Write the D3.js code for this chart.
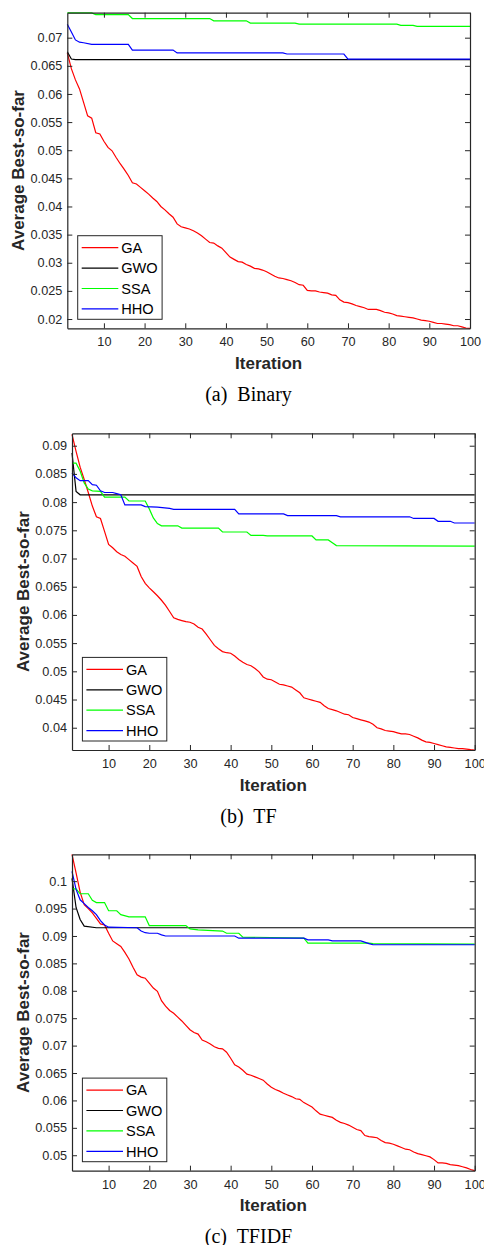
<!DOCTYPE html>
<html>
  <head>
    <meta charset="utf-8">
    <style>
      body { margin: 0; background: #fff; }
      .tick text { font-family: "Liberation Sans", Arial, sans-serif; font-size: 12.7px; fill: #262626; }
      .tick line { stroke: #262626; }
      .domain { stroke: #262626; }
      .lab { font-family: "Liberation Sans", Arial, sans-serif; font-weight: bold; font-size: 17px; fill: #262626; }
      .leg { font-family: "Liberation Sans", Arial, sans-serif; font-size: 14.6px; fill: #000; }
      .cap { font-family: "Liberation Serif", "Times New Roman", serif; font-size: 20px; fill: #000; }
      .series { fill: none; stroke-width: 1.2; }
    </style>
    <script src="https://cdnjs.cloudflare.com/ajax/libs/d3/7.8.5/d3.min.js"></script>
  </head>
  <body>
    <svg width="484" height="1245" id="SVG"></svg>
    <script>
      var names = ["GA", "GWO", "SSA", "HHO"];
      var colors = ["#ff0000", "#000000", "#00ff00", "#0000ff"];
      var captions = ["(a)  Binary", "(b)  TF", "(c)  TFIDF"];
      var xTicks = [10, 20, 30, 40, 50, 60, 70, 80, 90, 100];
      var yTicks1 = [0.02, 0.025, 0.03, 0.035, 0.04, 0.045, 0.05, 0.055, 0.06, 0.065, 0.07];
      var yTicks2 = [0.04, 0.045, 0.05, 0.055, 0.06, 0.065, 0.07, 0.075, 0.08, 0.085, 0.09];
      var yTicks3 = [0.05, 0.055, 0.06, 0.065, 0.07, 0.075, 0.08, 0.085, 0.09, 0.095, 0.1];

      // (a) Binary  -- [iteration, value]
      var ga1 = [[1,0.0673],[2,0.0645],[3,0.0625],[4,0.0609],[5,0.0585],[6,0.0561],[7,0.0557],[8,0.0531],[9,0.0529],[10,0.0516],
        [11,0.0505],[12,0.0499],[13,0.0487],[14,0.0476],[15,0.0466],[16,0.0455],[17,0.0442],[18,0.0440],[19,0.0434],[20,0.0428],
        [21,0.0422],[22,0.0415],[23,0.0409],[24,0.0400],[25,0.0394],[26,0.0387],[27,0.0381],[28,0.0369],[29,0.0364],[30,0.0362],
        [31,0.0360],[32,0.0357],[33,0.0353],[34,0.0348],[35,0.0342],[36,0.0336],[37,0.0335],[38,0.0330],[39,0.0326],[40,0.0318],
        [41,0.0310],[42,0.0306],[43,0.0302],[44,0.0301],[45,0.0297],[46,0.0294],[47,0.0290],[48,0.0289],[49,0.0287],[50,0.0284],
        [51,0.0280],[52,0.0276],[53,0.0273],[54,0.0272],[55,0.0270],[56,0.0268],[57,0.0265],[58,0.0261],[59,0.0260],[60,0.0251],
        [61,0.0250],[62,0.0250],[63,0.0248],[64,0.0247],[65,0.0246],[66,0.0243],[67,0.0242],[68,0.0234],[69,0.0230],[70,0.0229],
        [71,0.0227],[72,0.0224],[73,0.0222],[74,0.0220],[75,0.0217],[76,0.0217],[77,0.0217],[78,0.0215],[79,0.0212],[80,0.0211],
        [81,0.0209],[82,0.0206],[83,0.0205],[84,0.0204],[85,0.0203],[86,0.0202],[87,0.0200],[88,0.0198],[89,0.0197],[90,0.0196],
        [91,0.0194],[92,0.0192],[93,0.0192],[94,0.0191],[95,0.0190],[96,0.0188],[97,0.0188],[98,0.0186],[99,0.0184],[100,0.01835]];
      var gwo1 = [[1,0.0675],[2,0.0662],[3,0.0661],[100,0.0661]];
      var ssa1 = [[1,0.0744],[7,0.0744],[8,0.0741],[16,0.0741],[17,0.0734],[36,0.0734],[37,0.0730],[45,0.0730],[46,0.0726],
        [57,0.0726],[58,0.0724],[82,0.0724],[83,0.0722],[86,0.0722],[87,0.0720],[100,0.0720]];
      var hho1 = [[1,0.0724],[2,0.0710],[3,0.0696],[4,0.0692],[5,0.0691],[7,0.0688],[16,0.0688],[17,0.0678],[27,0.0678],
        [28,0.0673],[54,0.0673],[55,0.0671],[69,0.0671],[70,0.0662],[100,0.0662]];

      // (b) TF
      var ga2 = [[1,0.0920],[2,0.0890],[3,0.0862],[4,0.0840],[5,0.0817],[6,0.0793],[7,0.0774],[8,0.0771],[9,0.0748],[10,0.0725],
        [11,0.0719],[12,0.0712],[13,0.0707],[14,0.0704],[15,0.0698],[16,0.0692],[17,0.0686],[18,0.0668],[19,0.0656],[20,0.0648],
        [21,0.0641],[22,0.0634],[23,0.0626],[24,0.0617],[25,0.0606],[26,0.0595],[27,0.0592],[28,0.0590],[29,0.0588],[30,0.0587],
        [31,0.0584],[32,0.0578],[33,0.0575],[34,0.0566],[35,0.0556],[36,0.0546],[37,0.0540],[38,0.0535],[39,0.0533],[40,0.0532],
        [41,0.0527],[42,0.0521],[43,0.0516],[44,0.0512],[45,0.0510],[46,0.0505],[47,0.0499],[48,0.0490],[49,0.0486],[50,0.0485],
        [51,0.0481],[52,0.0477],[53,0.0476],[54,0.0474],[55,0.0472],[56,0.0467],[57,0.0462],[58,0.0453],[59,0.0451],[60,0.0449],
        [61,0.0447],[62,0.0445],[63,0.0439],[64,0.0434],[65,0.0432],[66,0.0430],[67,0.0427],[68,0.0424],[69,0.0423],[70,0.0418],
        [71,0.0416],[72,0.0414],[73,0.0412],[74,0.0410],[75,0.0406],[76,0.0400],[77,0.0398],[78,0.0395],[79,0.0394],[80,0.0393],
        [81,0.0391],[82,0.0389],[83,0.0389],[84,0.0388],[85,0.0385],[86,0.0382],[87,0.0378],[88,0.0375],[89,0.0374],[90,0.0372],
        [91,0.0370],[92,0.0368],[93,0.0366],[94,0.0365],[95,0.0364],[96,0.0363],[97,0.0363],[98,0.0362],[99,0.0361],[100,0.03605]];
      var gwo2 = [[1,0.0887],[2,0.0819],[3,0.0813],[100,0.0813]];
      var ssa2 = [[1,0.0869],[2,0.0869],[3,0.0855],[4,0.0834],[5,0.0823],[6,0.0820],[8,0.0819],[9,0.0809],[14,0.0809],
        [15,0.0802],[19,0.0802],[20,0.0788],[21,0.0772],[22,0.0762],[23,0.0758],[27,0.0758],[28,0.0754],[37,0.0754],
        [38,0.0747],[44,0.0747],[45,0.0741],[48,0.0741],[49,0.0740],[60,0.0740],[61,0.0733],[64,0.0733],[65,0.0728],
        [66,0.0723],[100,0.0722]];
      var hho2 = [[1,0.0852],[2,0.0843],[3,0.0838],[5,0.0838],[6,0.0831],[7,0.0830],[8,0.0820],[9,0.0817],[11,0.0817],
        [12,0.0815],[13,0.0813],[14,0.0795],[18,0.0795],[19,0.0792],[22,0.0791],[25,0.0789],[26,0.0787],[41,0.0787],
        [42,0.0779],[53,0.0779],[54,0.0776],[66,0.0776],[67,0.0774],[84,0.0774],[85,0.0771],[90,0.0771],[91,0.0766],
        [94,0.0766],[95,0.0763],[100,0.0763]];

      // (c) TFIDF
      var ga3 = [[1,0.1049],[2,0.1015],[3,0.0980],[4,0.0957],[5,0.0950],[6,0.0942],[7,0.0932],[8,0.0922],[9,0.0920],[10,0.0905],
        [11,0.0891],[12,0.0886],[13,0.0881],[14,0.0870],[15,0.0858],[16,0.0843],[17,0.0829],[18,0.0825],[19,0.0823],[20,0.0814],
        [21,0.0805],[22,0.0799],[23,0.0782],[24,0.0772],[25,0.0764],[26,0.0759],[27,0.0752],[28,0.0745],[29,0.0737],[30,0.0729],
        [31,0.0724],[32,0.0721],[33,0.0710],[34,0.0707],[35,0.0703],[36,0.0698],[37,0.0695],[38,0.0694],[39,0.0688],[40,0.0677],
        [41,0.0665],[42,0.0661],[43,0.0655],[44,0.0648],[45,0.0646],[46,0.0643],[47,0.0640],[48,0.0637],[49,0.0630],[50,0.0624],
        [51,0.0620],[52,0.0617],[53,0.0613],[54,0.0610],[55,0.0607],[56,0.0603],[57,0.0602],[58,0.0596],[59,0.0592],[60,0.0588],
        [61,0.0581],[62,0.0575],[63,0.0573],[64,0.0571],[65,0.0569],[66,0.0564],[67,0.0560],[68,0.0558],[69,0.0555],[70,0.0551],
        [71,0.0547],[72,0.0545],[73,0.0536],[74,0.0534],[75,0.0533],[76,0.0532],[77,0.0527],[78,0.0523],[79,0.0522],[80,0.0520],
        [81,0.0517],[82,0.0514],[83,0.0511],[84,0.0510],[85,0.0506],[86,0.0503],[87,0.0501],[88,0.0499],[89,0.0497],[90,0.0492],
        [91,0.0486],[92,0.0486],[93,0.0485],[94,0.0483],[95,0.0482],[96,0.0481],[97,0.0479],[98,0.0477],[99,0.0474],[100,0.04718]];
      var gwo3 = [[1,0.1005],[2,0.0952],[3,0.0930],[4,0.0918],[7,0.0915],[100,0.0915]];
      var ssa3 = [[1,0.0986],[2,0.0986],[3,0.0977],[5,0.0977],[6,0.0965],[7,0.0961],[9,0.0961],[10,0.0946],[12,0.0946],
        [13,0.0939],[15,0.0935],[19,0.0935],[20,0.0919],[29,0.0919],[30,0.0913],[32,0.0911],[38,0.0909],[39,0.0905],
        [42,0.0905],[43,0.0898],[58,0.0896],[59,0.0887],[74,0.0887],[75,0.0886],[100,0.0885]];
      var hho3 = [[1,0.1018],[2,0.0985],[3,0.0966],[4,0.0959],[5,0.0952],[6,0.0946],[7,0.0939],[8,0.0928],[9,0.0920],
        [10,0.0916],[17,0.0915],[18,0.0909],[19,0.0906],[20,0.0905],[22,0.0905],[23,0.0902],[24,0.0900],[41,0.0900],
        [42,0.0896],[58,0.0896],[59,0.0893],[64,0.0893],[65,0.0891],[72,0.0891],[74,0.0886],[75,0.0884],[100,0.0884]];

      // panel layout (pixels)
      var panels = [
        { left: 67.3, right: 470, top: 12.7, bottom: 328.3, ymin: 0.01835, ymax: 0.07444, yTicks: yTicks1,
          ylabX: 17.5, series: [ga1, gwo1, ssa1, hho1] },
        { left: 72, right: 474.7, top: 433.3, bottom: 750, ymin: 0.03605, ymax: 0.0922, yTicks: yTicks2,
          ylabX: 22.5, series: [ga2, gwo2, ssa2, hho2] },
        { left: 72, right: 474.7, top: 854.3, bottom: 1170.7, ymin: 0.04718, ymax: 0.1049, yTicks: yTicks3,
          ylabX: 22.5, series: [ga3, gwo3, ssa3, hho3] }
      ];
      var capX = 248.5;
      var tick = 5;

      var svg = d3.select("#SVG");

      panels.forEach(function(p, k) {
        var x = d3.scaleLinear().domain([1, 100]).range([p.left, p.right]);
        var y = d3.scaleLinear().domain([p.ymin, p.ymax]).range([p.bottom, p.top]);
        var g = svg.append("g");

        var line = d3.line()
                     .x(function(d) { return x(d[0]) })
                     .y(function(d) { return y(d[1]) });

        p.series.forEach(function(s, i) {
          g.append("path")
           .attr("class", "series")
           .attr("d", line(s))
           .attr("stroke", colors[i]);
        });

        // axes, ticks pointing inward on all four sides
        g.append("g")
         .attr("transform", "translate(0," + p.bottom + ")")
         .call(d3.axisBottom(x).tickValues(xTicks).tickSizeInner(-tick).tickSizeOuter(0).tickPadding(9));
        g.append("g")
         .attr("transform", "translate(0," + p.top + ")")
         .call(d3.axisTop(x).tickValues(xTicks).tickSizeInner(-tick).tickSizeOuter(0).tickFormat(""));
        g.append("g")
         .attr("transform", "translate(" + p.left + ",0)")
         .call(d3.axisLeft(y).tickValues(p.yTicks).tickSizeInner(-tick).tickSizeOuter(0).tickPadding(5)
                 .tickFormat(function(d) { return String(d) }));
        g.append("g")
         .attr("transform", "translate(" + p.right + ",0)")
         .call(d3.axisRight(y).tickValues(p.yTicks).tickSizeInner(-tick).tickSizeOuter(0).tickFormat(""));
        g.selectAll(".domain").attr("stroke-width", 1.2);

        // axis labels
        g.append("text")
         .attr("class", "lab")
         .attr("x", (p.left + p.right) / 2)
         .attr("y", p.bottom + 40.5)
         .attr("text-anchor", "middle")
         .text("Iteration");
        g.append("text")
         .attr("class", "lab")
         .attr("transform", "translate(" + (p.ylabX + 6) + "," + ((p.top + p.bottom) / 2) + ") rotate(-90)")
         .attr("text-anchor", "middle")
         .text("Average Best-so-far");

        // legend
        var lx = p.left + 10.4, lw = 84.4, lh = 83.6;
        var ly = p.bottom - 9 - lh;
        var leg = g.append("g").attr("transform", "translate(" + lx + "," + ly + ")");
        leg.append("rect")
           .attr("width", lw).attr("height", lh)
           .attr("fill", "#fff").attr("stroke", "#262626").attr("stroke-width", 1);
        names.forEach(function(n, i) {
          var cy = 12 + i * 20.4;
          leg.append("line")
             .attr("x1", 4).attr("x2", 40.6)
             .attr("y1", cy).attr("y2", cy)
             .attr("stroke", colors[i]).attr("stroke-width", 1.2);
          leg.append("text")
             .attr("class", "leg")
             .attr("x", 43.5).attr("y", cy + 5.3)
             .text(n);
        });

        // caption
        svg.append("text")
           .attr("class", "cap")
           .attr("x", capX)
           .attr("y", p.bottom + 72.5)
           .attr("text-anchor", "middle")
           .style("white-space", "pre")
           .text(captions[k]);
      });
    </script>
  </body>
</html>
